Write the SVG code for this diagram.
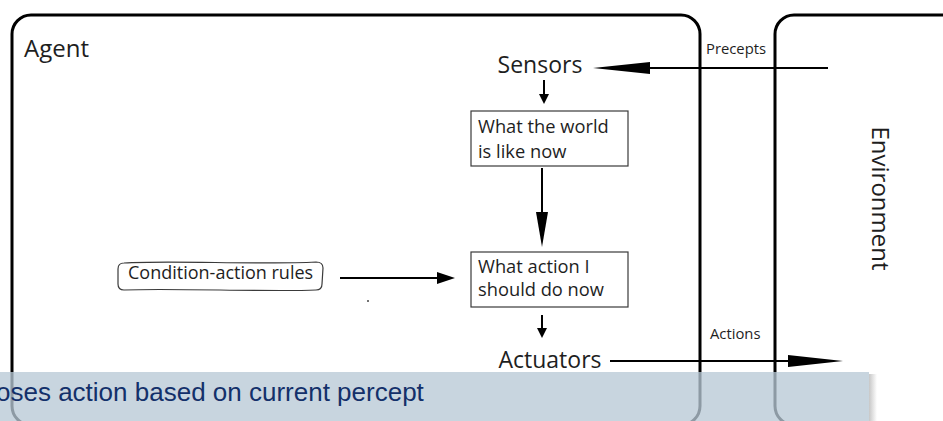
<svg xmlns="http://www.w3.org/2000/svg" width="943" height="421" viewBox="0 0 943 421">
  <style>
    .frame { fill: #ffffff; stroke: #000000; stroke-width: 3; }
    .box { fill: #ffffff; stroke: #3a3a3a; stroke-width: 1.2; }
    .lbl { font-family: "Open Sans", "Noto Sans", "DejaVu Sans", sans-serif; fill: #1e1e1e; }
    .wire { stroke: #000000; stroke-width: 2; fill: none; }
    .head { fill: #000000; stroke: none; }
    .banner-text { font-family: "Liberation Sans", Arial, sans-serif; font-size: 26px; fill: #13306a; }
  </style>
  <defs>
    <linearGradient id="bannerShadow" x1="0" y1="0" x2="1" y2="0">
      <stop offset="0" stop-color="#000000" stop-opacity="0.22"/>
      <stop offset="1" stop-color="#000000" stop-opacity="0"/>
    </linearGradient>
  </defs>

  <rect x="0" y="0" width="943" height="421" fill="#ffffff"/>

  <!-- agent frame -->
  <g id="agent">
    <rect class="frame" x="12" y="15" width="688" height="410" rx="19" ry="19"/>
    <text class="lbl" x="24" y="57" font-size="24">Agent</text>
  </g>

  <!-- environment frame -->
  <g id="environment">
    <rect class="frame" x="775" y="15" width="190" height="410" rx="19" ry="19"/>
    <text class="lbl" font-size="24" text-anchor="middle" transform="translate(872 198.5) rotate(90)">Environment</text>
  </g>

  <g id="sensors">
    <text class="lbl" x="540" y="73" font-size="23" text-anchor="middle">Sensors</text>
  </g>

  <g id="world-state">
    <rect class="box" x="471" y="111" width="157" height="55"/>
    <text class="lbl" x="478" y="133" font-size="18.3">What the world</text>
    <text class="lbl" x="478" y="158" font-size="18.3">is like now</text>
  </g>

  <g id="action-choice">
    <rect class="box" x="471" y="252" width="157" height="55"/>
    <text class="lbl" x="478" y="273" font-size="18.3">What action I</text>
    <text class="lbl" x="478" y="296" font-size="18.3">should do now</text>
  </g>

  <g id="rules">
    <path class="box" d="M124 263 C170 260 260 265 316 262 Q323 262 323 268 L322 284 Q322 290 316 290 C270 292 170 288 124 290 Q118 290 118 284 L118 269 Q118 263 124 263 Z"/>
    <text class="lbl" x="128" y="279" font-size="18">Condition-action rules</text>
  </g>

  <g id="actuators">
    <text class="lbl" x="550" y="368" font-size="23" text-anchor="middle">Actuators</text>
  </g>

  <!-- connectors -->
  <g id="connectors">
    <!-- percepts in -->
    <line class="wire" x1="828" y1="68" x2="648" y2="68"/>
    <polygon class="head" points="593,68 650,62 650,74"/>
    <text class="lbl" x="706" y="54" font-size="14.8">Precepts</text>

    <!-- sensors to world state -->
    <line class="wire" x1="544" y1="80" x2="544" y2="96"/>
    <polygon class="head" points="544,104 539,94 549,94"/>

    <!-- world state to action choice -->
    <line class="wire" x1="542" y1="168" x2="542" y2="214"/>
    <polygon class="head" points="542,247 536,212 548,212"/>

    <!-- rules to action choice -->
    <line class="wire" x1="340" y1="278" x2="439" y2="278"/>
    <polygon class="head" points="455,278 437,272 437,284"/>

    <!-- action choice to actuators -->
    <line class="wire" x1="542" y1="315" x2="542" y2="330"/>
    <polygon class="head" points="542,338 537,328 547,328"/>

    <!-- actions out -->
    <line class="wire" x1="610" y1="361" x2="790" y2="361"/>
    <polygon class="head" points="843,361 788,355 788,367"/>
    <text class="lbl" x="710" y="339" font-size="14.8">Actions</text>
  </g>

  <circle cx="368" cy="301" r="1" fill="#444444"/>

  <!-- caption strip -->
  <rect x="869" y="374" width="8" height="47" fill="url(#bannerShadow)"/>
  <rect x="0" y="372" width="869" height="49" fill="rgb(183,200,213)" fill-opacity="0.77"/>
  <text class="banner-text" x="-4" y="401">oses action based on current percept</text>
</svg>
